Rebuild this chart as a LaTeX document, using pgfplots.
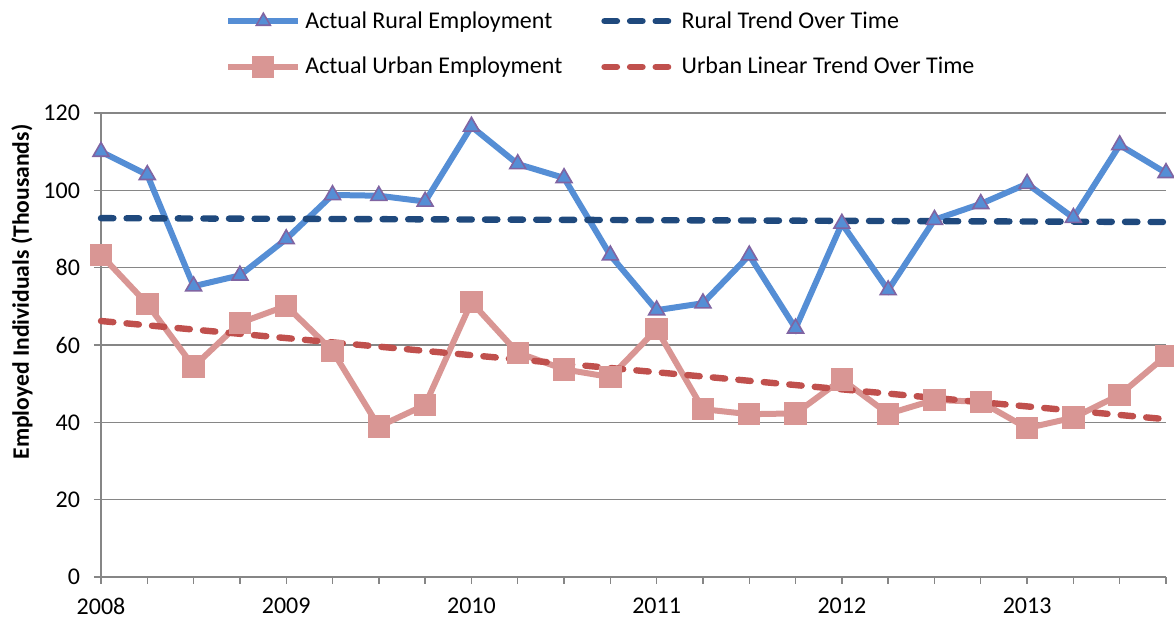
\documentclass[border=0pt]{standalone}
\usepackage{fontspec}
\setmainfont{Carlito}
\usepackage{pgfplots}
\pgfplotsset{compat=1.18}
\definecolor{rural}{HTML}{558ED5}
\definecolor{ruraledge}{HTML}{8064A2}
\definecolor{ruraltrend}{HTML}{1F497D}
\definecolor{urban}{HTML}{D99694}
\definecolor{urbantrend}{HTML}{C0504D}
\definecolor{gridgray}{HTML}{868686}
\pgfplotstableread{
q val
0 110
1 104
2 75.2
3 78
4 87.4
5 98.8
6 98.6
7 97.1
8 116.5
9 106.8
10 103.2
11 83.2
12 69
13 70.8
14 83.2
15 64.3
16 91.4
17 74.2
18 92.4
19 96.5
20 101.7
21 92.9
22 111.7
23 104.5
}\ruraldata
\pgfplotstableread{
q val
0 83.3
1 70.6
2 54.4
3 65.7
4 70.1
5 58.5
6 38.9
7 44.5
8 71.1
9 58.0
10 53.7
11 51.7
12 64.1
13 43.4
14 42.1
15 42.3
16 51.1
17 42.2
18 45.8
19 45.3
20 38.5
21 41.2
22 47.1
23 57.2
}\urbandata
\begin{document}
\begin{tikzpicture}
\begin{axis}[
  name=ax,
  scale only axis, width=532.5pt, height=232pt,
  xmin=0, xmax=23, ymin=0, ymax=120,
  ytick={0,20,...,120},
  xtick={0,...,23},
  xticklabels={2008,,,,2009,,,,2010,,,,2011,,,,2012,,,,2013,,,},
  axis x line*=bottom, axis y line*=left,
  ymajorgrids, grid style={gridgray, line width=0.7pt},
  axis line style={gridgray, line width=0.7pt},
  tick style={gridgray, line width=0.7pt},
  major tick length=3.5pt,
  tick align=outside,
  ticklabel style={font=\fontsize{12}{14}\selectfont, text=black},
  xticklabel style={yshift=-3.5pt},
  yticklabel style={xshift=-3.5pt},
  /pgf/number format/assume math mode=true,
  ylabel={\bfseries Employed Individuals (Thousands)},
  ylabel style={at={(axis description cs:-0.0742,0.614)}, anchor=center, rotate=0, font=\fontsize{11.8}{14}\selectfont},
  clip=false,
  legend columns=2,
  legend cell align=left,
  legend style={draw=none, fill=none, at={(0.1164,1)}, anchor=north west, yshift=53pt,
    font=\fontsize{12}{14}\selectfont, inner sep=0pt,
    /tikz/every even column/.append style={column sep=17.5pt},
    row sep=9pt},
  legend image code/.code={\draw[mark repeat=2,mark phase=2,#1] plot coordinates {(0pt,0pt) (17.5pt,0pt) (35pt,0pt)};},
]
\addplot[urban, line width=3pt, mark=square*, mark size=4.1pt, mark options={solid, fill=urban, draw=none}, forget plot] table[x=q,y=val] {\urbandata};
\addplot[rural, line width=3pt, mark=triangle*, mark size=4.6pt, mark options={solid, fill=rural, draw=ruraledge, line width=0.8pt}, forget plot] table[x=q,y=val] {\ruraldata};
\addplot[urbantrend, line width=3.2pt, line cap=round, dash pattern=on 6.2pt off 6.6pt, forget plot] coordinates {(0,66.2) (23,40.8)};
\addplot[ruraltrend, line width=3.2pt, line cap=round, dash pattern=on 6.2pt off 6.6pt, forget plot] coordinates {(0,92.8) (23,91.8)};
\addlegendimage{rural, line width=3pt, mark=triangle*, mark size=4pt, mark options={solid, fill=rural, draw=ruraledge, line width=0.8pt}}
\addlegendimage{ruraltrend, line width=3.2pt, line cap=round, dash pattern=on 6.2pt off 6.6pt}
\addlegendimage{urban, line width=3pt, mark=square*, mark size=4pt, mark options={solid, fill=urban, draw=none}}
\addlegendimage{urbantrend, line width=3.2pt, line cap=round, dash pattern=on 6.2pt off 6.6pt}
\legend{Actual Rural Employment, Rural Trend Over Time, Actual Urban Employment, Urban Linear Trend Over Time}
\end{axis}
\pgfresetboundingbox
\path[use as bounding box] ([shift={(-50.5pt,-20.5pt)}]ax.south west) rectangle ([shift={(4pt,56.5pt)}]ax.north east);
\end{tikzpicture}
\end{document}
